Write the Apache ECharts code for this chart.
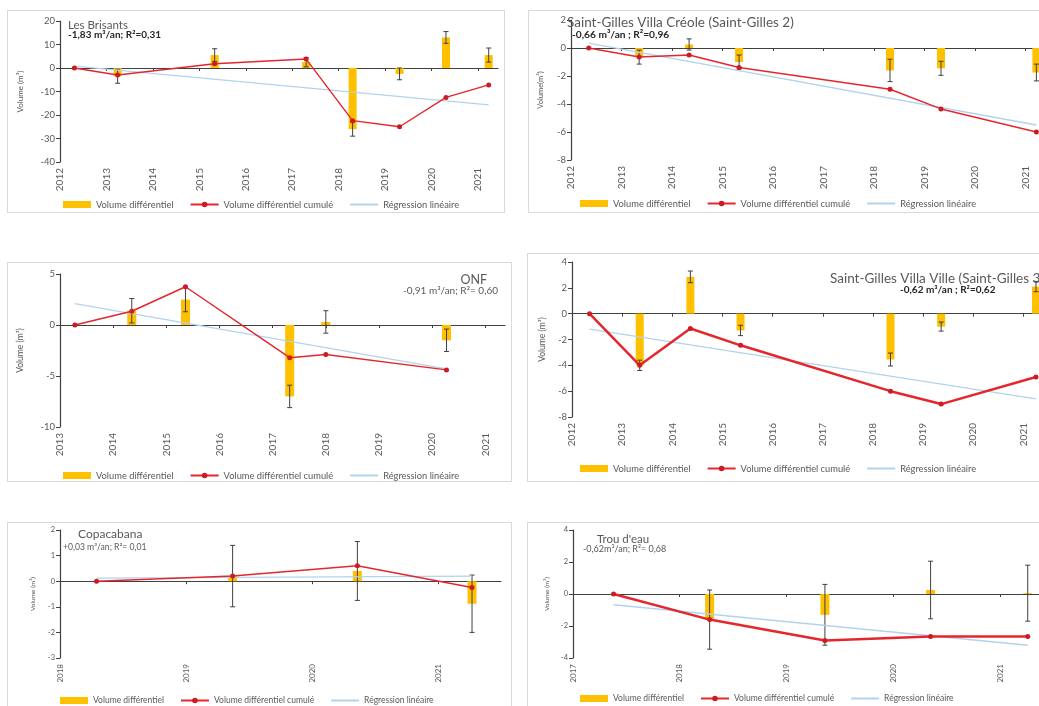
<!DOCTYPE html>
<html>
<head>
<meta charset="utf-8">
<script src="https://cdn.jsdelivr.net/npm/echarts@6/dist/echarts.min.js"></script>
<style>
  html, body { margin: 0; padding: 0; background: #fff; }
  body { position: relative; width: 1039px; height: 706px; overflow: hidden; }
  .panel { position: absolute; border: 1px solid #d9d9d9; box-sizing: border-box; background: #fff; }
</style>
</head>
<body>
<div id="p1" class="panel" style="left:7px;top:10px;width:498px;height:203px"></div>
<div id="p2" class="panel" style="left:528px;top:10px;width:540px;height:203px"></div>
<div id="p3" class="panel" style="left:7px;top:262px;width:505px;height:220px"></div>
<div id="p4" class="panel" style="left:527px;top:253px;width:540px;height:229px"></div>
<div id="p5" class="panel" style="left:7px;top:522px;width:505px;height:200px"></div>
<div id="p6" class="panel" style="left:527px;top:522px;width:540px;height:200px"></div>
<script>
// ---------------- donnees (annee decimale du levé) ----------------
// Les Brisants
var brisYears = [2012, 2013, 2014, 2015, 2016, 2017, 2018, 2019, 2020, 2021];
var brisDates = [2012.31, 2013.24, 2015.33, 2017.3, 2018.3, 2019.31, 2020.31, 2021.23];
var brisCumul = [0, -3, 1.8, 3.8, -22.4, -25, -12.5, -7.2];
var brisDiff = [-3.5, 5.5, 2.5, -26, -2.5, 13, 5.5];
var brisErr = [3, 2.7, 2, 3, 2.5, 2.5, 3];
var brisReg = [[2012.31, 0.8], [2021.23, -15.7]];

// Saint-Gilles Villa Creole
var vcYears = [2012, 2013, 2014, 2015, 2016, 2017, 2018, 2019, 2020, 2021];
var vcDates = [2012.35, 2013.35, 2014.34, 2015.33, 2018.32, 2019.33, 2021.22];
var vcCumul = [0, -0.65, -0.5, -1.4, -2.95, -4.35, -6.0];
var vcDiff = [-0.65, 0.25, -1.0, -1.6, -1.45, -1.75];
var vcErr = [0.5, 0.4, 0.5, 0.8, 0.5, 0.6];
var vcReg = [[2012.35, 0.35], [2021.22, -5.5]];

// ONF
var onfYears = [2013, 2014, 2015, 2016, 2017, 2018, 2019, 2020, 2021];
var onfDates = [2013.28, 2014.35, 2015.36, 2017.32, 2018.0, 2020.27];
var onfCumul = [0, 1.35, 3.75, -3.2, -2.9, -4.4];
var onfDiff = [1.4, 2.5, -7, 0.3, -1.5];
var onfErr = [1.2, 1.2, 1.1, 1.1, 1.1];
var onfReg = [[2013.28, 2.1], [2020.27, -4.3]];

// Saint-Gilles Villa Ville
var vvYears = [2012, 2013, 2014, 2015, 2016, 2017, 2018, 2019, 2020, 2021];
var vvDates = [2012.35, 2013.35, 2014.36, 2015.36, 2018.35, 2019.36, 2021.25];
var vvCumul = [0, -4.0, -1.15, -2.45, -6.0, -7.0, -4.9];
var vvDiff = [-4.0, 2.85, -1.3, -3.55, -1.0, 2.1];
var vvErr = [0.4, 0.45, 0.4, 0.5, 0.35, 0.4];
var vvReg = [[2012.35, -1.2], [2021.25, -6.6]];

// Copacabana
var copaYears = [2018, 2019, 2020, 2021];
var copaDates = [2018.29, 2019.37, 2020.36, 2021.27];
var copaCumul = [0, 0.2, 0.6, -0.25];
var copaDiff = [0.2, 0.4, -0.88];
var copaErr = [1.2, 1.15, 1.12];
var copaReg = [[2018.29, 0.12], [2021.27, 0.2]];

// Trou d'eau
var tdYears = [2017, 2018, 2019, 2020, 2021];
var tdDates = [2017.38, 2018.28, 2019.36, 2020.35, 2021.26];
var tdCumul = [0, -1.6, -2.9, -2.65, -2.65];
var tdDiff = [-1.6, -1.3, 0.25, 0.05];
var tdErr = [1.85, 1.9, 1.8, 1.75];
var tdReg = [[2017.38, -0.67], [2021.26, -3.2]];

var FONT = 'Lato, "Open Sans", sans-serif';
var TXT = '#595959';
var AXIS = '#404040';
var NAMES = ['Volume différentiel', 'Volume différentiel cumulé', 'Régression linéaire'];

// mise en page de chaque graphique
var panels = [
  { id: 'p1', years: brisYears, dates: brisDates, cumul: brisCumul, diff: brisDiff, err: brisErr, reg: brisReg,
    xMin: 2012, xMax: 2021.43, yMin: -40, yMax: 20, yStep: 10,
    grid: { left: 47, top: 10, width: 443, height: 141 },
    yName: 'Volume (m³)', nameGap: 36, fs: 9.5, xfs: 10, nameFs: 8, lineW: 1.4, barW: 8,
    title: { text: 'Les Brisants', left: 60, top: 8, fontSize: 11.5 },
    sub: { text: '-1,83 m³/an; R²=0,31', left: 60, top: 19, fontSize: 10, bold: true },
    legend: { left: 55, top: 189, fs: 9.3 } },
  { id: 'p2', years: vcYears, dates: vcDates, cumul: vcCumul, diff: vcDiff, err: vcErr, reg: vcReg,
    xMin: 2012, xMax: 2021.45, yMin: -8, yMax: 2, yStep: 2,
    grid: { left: 34, top: 9, width: 485, height: 140 },
    yName: 'Volume(m³)', nameGap: 26, fs: 9.5, xfs: 10, nameFs: 7.5, lineW: 1.5, barW: 8,
    title: { text: 'Saint-Gilles Villa Créole (Saint-Gilles 2)', left: 38, top: 5, fontSize: 13.5 },
    sub: { text: '-0,66 m³/an ; R²=0,96', left: 43, top: 19, fontSize: 10.2, bold: true },
    legend: { left: 51, top: 188, fs: 9.3 } },
  { id: 'p3', years: onfYears, dates: onfDates, cumul: onfCumul, diff: onfDiff, err: onfErr, reg: onfReg,
    xMin: 2013, xMax: 2021.37, yMin: -10, yMax: 5, yStep: 5,
    grid: { left: 42, top: 11, width: 455, height: 153 },
    yName: 'Volume (m³)', nameGap: 35, fs: 9.5, xfs: 10, nameFs: 8.5, lineW: 1.5, barW: 9,
    title: { text: 'ONF', right: 24, top: 10, fontSize: 12.5 },
    sub: { text: '-0,91 m³/an; R²= 0,60', right: 13, top: 23, fontSize: 10, bold: false },
    legend: { left: 55, top: 208, fs: 9.3 } },
  { id: 'p4', years: vvYears, dates: vvDates, cumul: vvCumul, diff: vvDiff, err: vvErr, reg: vvReg,
    xMin: 2012, xMax: 2021.45, yMin: -8, yMax: 4, yStep: 2,
    grid: { left: 44, top: 8, width: 474, height: 155 },
    yName: 'Volume (m³)', nameGap: 25, fs: 9.5, xfs: 10, nameFs: 8.5, lineW: 2.5, barW: 8,
    title: { text: 'Saint-Gilles Villa Ville (Saint-Gilles 3)', left: 302, top: 18, fontSize: 13.5 },
    sub: { text: '-0,62 m³/an ; R²=0,62', left: 372, top: 31, fontSize: 10, bold: true },
    legend: { left: 52, top: 210, fs: 9.3 } },
  { id: 'p5', years: copaYears, dates: copaDates, cumul: copaCumul, diff: copaDiff, err: copaErr, reg: copaReg,
    xMin: 2018, xMax: 2021.5, yMin: -3, yMax: 2, yStep: 1,
    grid: { left: 52, top: 7, width: 441, height: 128 },
    yName: 'Volume (m³)', nameGap: 24, fs: 7.5, xfs: 8, nameFs: 6.5, lineW: 1.5, barW: 9,
    title: { text: 'Copacabana', left: 70, top: 5, fontSize: 12 },
    sub: { text: '+0,03 m³/an; R²= 0,01', left: 55, top: 20, fontSize: 8.6, bold: false },
    legend: { left: 52, top: 173, fs: 8.5 } },
  { id: 'p6', years: tdYears, dates: tdDates, cumul: tdCumul, diff: tdDiff, err: tdErr, reg: tdReg,
    xMin: 2017, xMax: 2021.45, yMin: -4, yMax: 4, yStep: 2,
    grid: { left: 45, top: 7, width: 475, height: 128 },
    yName: 'Volume (m³)', nameGap: 21, fs: 7.5, xfs: 8, nameFs: 6.5, lineW: 2.5, barW: 9,
    title: { text: 'Trou d\'eau', left: 69, top: 10, fontSize: 11.5 },
    sub: { text: '-0,62m³/an; R²= 0,68', left: 55, top: 22, fontSize: 9, bold: false },
    legend: { left: 52, top: 171, fs: 8.5 } }
];

// barres d'erreur (trait vertical + petites barres)
function renderErr(params, api) {
  var x = api.value(0), y = api.value(1), e = api.value(2);
  var hi = api.coord([x, y + e]);
  var lo = api.coord([x, y - e]);
  var w = 2.5;
  var st = { stroke: AXIS, lineWidth: 1 };
  return {
    type: 'group',
    children: [
      { type: 'line', shape: { x1: hi[0], y1: hi[1], x2: lo[0], y2: lo[1] }, style: st },
      { type: 'line', shape: { x1: hi[0] - w, y1: hi[1], x2: hi[0] + w, y2: hi[1] }, style: st },
      { type: 'line', shape: { x1: lo[0] - w, y1: lo[1], x2: lo[0] + w, y2: lo[1] }, style: st }
    ]
  };
}

function titleItem(t, fs, weight, color) {
  var item = { text: t.text, top: t.top, padding: 0,
    textStyle: { fontFamily: FONT, fontSize: fs, fontWeight: weight, color: color } };
  if (t.left != null) item.left = t.left;
  if (t.right != null) item.right = t.right;
  return item;
}

function buildOption(p) {
  var cumulData = [], diffData = [], errData = [];
  for (var i = 0; i < p.dates.length; i++) {
    cumulData.push([p.dates[i], p.cumul[i]]);
  }
  for (var j = 0; j < p.diff.length; j++) {
    diffData.push([p.dates[j + 1], p.diff[j]]);
    errData.push([p.dates[j + 1], p.diff[j], p.err[j]]);
  }
  return {
    animation: false,
    title: [
      titleItem(p.title, p.title.fontSize, 'normal', TXT),
      titleItem(p.sub, p.sub.fontSize, p.sub.bold ? 'bold' : 'normal', p.sub.bold ? '#262626' : TXT)
    ],
    legend: {
      left: p.legend.left, top: p.legend.top, padding: 0,
      itemWidth: 28, itemHeight: 7, itemGap: 16,
      textStyle: { fontFamily: FONT, fontSize: p.legend.fs, color: TXT },
      data: [
        { name: NAMES[0], icon: 'rect' },
        { name: NAMES[1] },
        { name: NAMES[2], itemStyle: { opacity: 0 } }
      ]
    },
    grid: { left: p.grid.left, top: p.grid.top, width: p.grid.width, height: p.grid.height },
    xAxis: [{
      type: 'value', min: p.xMin, max: p.xMax, interval: 1,
      axisLine: { show: false, onZero: false },
      axisTick: { show: false },
      splitLine: { show: false },
      axisLabel: {
        rotate: 90, margin: 6, fontFamily: FONT, fontSize: p.xfs, color: TXT,
        customValues: p.years,
        formatter: function (v) { return v % 1 === 0 ? String(v) : ''; }
      }
    }, {
      type: 'value', min: p.xMin, max: p.xMax, interval: 1, position: 'top',
      axisLine: { show: true, onZero: true, lineStyle: { color: AXIS, width: 1.2 } },
      axisTick: { show: true, inside: true, length: 3, lineStyle: { color: AXIS }, customValues: p.years },
      axisLabel: { show: false },
      splitLine: { show: false }
    }],
    yAxis: {
      type: 'value', min: p.yMin, max: p.yMax, interval: p.yStep,
      name: p.yName, nameLocation: 'middle', nameGap: p.nameGap,
      nameTextStyle: { fontFamily: FONT, fontSize: p.nameFs, color: TXT },
      axisLine: { show: true, onZero: false, lineStyle: { color: AXIS, width: 1.2 } },
      axisTick: { show: true, length: 4, lineStyle: { color: AXIS } },
      axisLabel: { margin: 5, fontFamily: FONT, fontSize: p.fs, color: TXT },
      splitLine: { show: false }
    },
    series: [{
      name: NAMES[0], type: 'bar', xAxisIndex: 0, barWidth: p.barW, z: 2,
      itemStyle: { color: '#FFC000' },
      data: diffData
    }, {
      type: 'custom', xAxisIndex: 0, z: 3, silent: true,
      renderItem: renderErr,
      encode: { x: 0, y: 1 },
      data: errData
    }, {
      name: NAMES[2], type: 'line', xAxisIndex: 0, z: 4, showSymbol: false, symbol: 'none',
      lineStyle: { color: '#B2D3EC', width: 1.4 },
      itemStyle: { color: '#B2D3EC' },
      data: p.reg
    }, {
      name: NAMES[1], type: 'line', xAxisIndex: 0, z: 5,
      symbol: 'circle', symbolSize: 5,
      lineStyle: { color: '#E5262D', width: p.lineW },
      itemStyle: { color: '#CC1B22' },
      data: cumulData
    }]
  };
}

for (var k = 0; k < panels.length; k++) {
  var chart = echarts.init(document.getElementById(panels[k].id), null, { renderer: 'canvas' });
  chart.setOption(buildOption(panels[k]));
}
</script>
</body>
</html>
